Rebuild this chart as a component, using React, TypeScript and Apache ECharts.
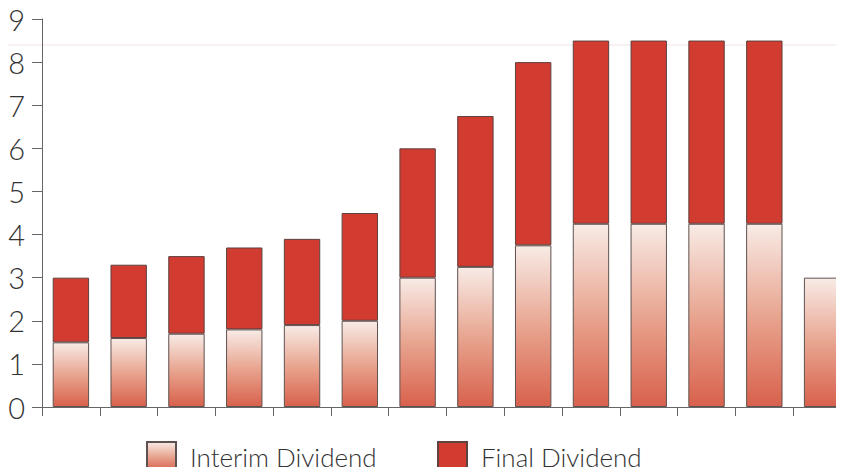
import React, { useEffect, useRef } from "react";
import * as echarts from "echarts";

const categories = ["1", "2", "3", "4", "5", "6", "7", "8", "9", "10", "11", "12", "13", "14"];
const interimDividend = [1.5, 1.6, 1.7, 1.8, 1.9, 2.0, 3.0, 3.25, 3.75, 4.25, 4.25, 4.25, 4.25, 3.0];
const finalDividend = [1.5, 1.7, 1.8, 1.9, 2.0, 2.5, 3.0, 3.5, 4.25, 4.25, 4.25, 4.25, 4.25, null];
const yTicks = [0, 1, 2, 3, 4, 5, 6, 7, 8, 9];

const FONT = "Lato";

export default function App() {
  const ref = useRef<HTMLDivElement>(null);
  useEffect(() => {
    if (!ref.current) return;
    const chart = echarts.init(ref.current, undefined, { renderer: "svg" });
    const interimGrad = new echarts.graphic.LinearGradient(0, 0, 0, 1, [
      { offset: 0, color: "#f8ebe6" },
      { offset: 0.5, color: "#e8a590" },
      { offset: 1, color: "#d8614c" },
    ]);
    const legendText = { fontFamily: FONT, fontWeight: 300, fontSize: 26, color: "#333", padding: [0, 0, 0, 9] };
    chart.setOption({
      animation: false,
      backgroundColor: "#ffffff",
      grid: { left: 42, top: 19, width: 809, height: 388, containLabel: false, outerBoundsMode: "none" },
      graphic: [
        {
          type: "line",
          shape: { x1: 0, y1: 45, x2: 844, y2: 45 },
          style: { stroke: "#f3e3e3", lineWidth: 1 },
          silent: true,
        },
      ],
      legend: [
        {
          data: ["Interim Dividend"],
          icon: "rect",
          left: 146,
          top: 441,
          padding: 0,
          itemWidth: 29,
          itemHeight: 29,
          textStyle: legendText,
        },
        {
          data: ["Final Dividend"],
          icon: "rect",
          left: 437,
          top: 441,
          padding: 0,
          itemWidth: 29,
          itemHeight: 29,
          textStyle: legendText,
        },
      ],
      xAxis: {
        type: "category",
        data: categories,
        axisLine: { lineStyle: { color: "#666", width: 1 } },
        axisTick: { show: true, length: 9, lineStyle: { color: "#666" } },
        axisLabel: { show: false },
      },
      yAxis: {
        type: "value",
        min: 0,
        max: yTicks[yTicks.length - 1],
        interval: 1,
        axisLine: { show: true, lineStyle: { color: "#666", width: 1 } },
        axisTick: { show: true, length: 10, lineStyle: { color: "#666" } },
        splitLine: { show: false },
        axisLabel: {
          margin: 17,
          fontFamily: FONT,
          fontWeight: 300,
          fontSize: 29,
          color: "#333",
        },
      },
      series: [
        {
          name: "Interim Dividend",
          type: "bar",
          stack: "d",
          data: interimDividend,
          barWidth: "63%",
          itemStyle: { color: interimGrad, borderColor: "#5e5250", borderWidth: 1 },
        },
        {
          name: "Final Dividend",
          type: "bar",
          stack: "d",
          data: finalDividend,
          barWidth: "63%",
          itemStyle: { color: "#d13b30", borderColor: "#5e4240", borderWidth: 1 },
        },
      ],
    });
    return () => chart.dispose();
  }, []);
  return <div ref={ref} style={{ width: 844, height: 475, margin: -8 }} />;
}
